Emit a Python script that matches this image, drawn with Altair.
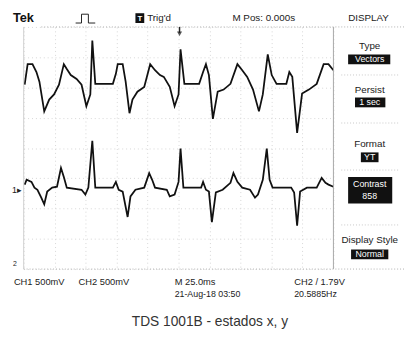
import altair as alt
import pandas as pd

# ---- trace data (time in ms, vertical position in screen divisions) ----
ch1_t = [0.8, 3.2, 7.1, 10.3, 12.7, 16.6, 20.6, 24.5, 28.5, 32.4, 34.8, 38.0, 42.7,
         46.7, 50.6, 53.8, 55.4, 57.8, 60.1, 72.0, 74.4, 75.9, 79.9, 82.3, 85.4,
         87.8, 91.8, 97.3, 102.1, 106.0, 107.6, 110.0, 113.1, 117.9, 121.8, 125.0,
         126.6, 129.7, 141.6, 144.8, 147.1, 149.5, 152.7, 156.6, 161.4, 166.9,
         172.5, 176.4, 180.4, 185.1, 189.9, 193.0, 197.0, 200.2, 204.1, 212.0,
         214.4, 216.8, 220.7, 224.7, 230.2, 236.5, 242.1, 246.0, 250.0]
ch1_div = [2.09, 2.77, 2.77, 2.51, 2.19, 1.21, 1.60, 1.77, 2.09, 2.77, 2.61, 2.41, 2.28,
           2.09, 1.38, 1.77, 3.55, 2.12, 2.12, 2.12, 2.45, 2.77, 2.77, 2.19, 1.15,
           1.60, 1.86, 2.02, 2.77, 2.57, 2.51, 2.41, 2.35, 2.02, 1.38, 1.77,
           3.26, 2.12, 2.12, 2.51, 2.77, 2.41, 0.96, 1.86, 1.93, 2.12,
           2.77, 2.57, 2.35, 1.93, 1.21, 1.77, 3.09, 2.41, 2.12, 2.12,
           2.51, 2.35, 0.50, 1.80, 1.93, 2.12, 2.77, 2.77, 2.57]

ch2_t = [0.8, 2.4, 6.3, 8.7, 11.1, 14.2, 16.6, 19.0, 23.0, 26.9, 30.1, 32.4, 34.8,
         46.7, 49.8, 52.2, 55.4, 57.8, 72.0, 74.4, 76.7, 79.9, 83.9, 86.2, 90.2,
         97.3, 101.3, 103.7, 106.0, 115.5, 117.9, 121.8, 125.0, 126.6, 128.9,
         143.2, 144.8, 147.1, 149.5, 151.9, 155.1, 160.6, 166.9, 169.3, 172.5,
         176.4, 182.7, 186.7, 189.1, 193.0, 196.2, 198.5, 200.9, 215.9, 218.3,
         220.7, 223.1, 228.6, 236.5, 240.5, 243.6, 246.0, 250.0]
ch2_div = [-1.21, -1.05, -1.12, -1.31, -1.38, -1.64, -1.86, -1.44, -1.31, -1.28, -0.66, -0.96, -1.31,
           -1.38, -1.54, -1.31, 0.24, -1.31, -1.31, -1.12, -1.38, -1.44, -2.28, -1.60, -1.38,
           -1.31, -0.83, -1.05, -1.31, -1.38, -1.60, -1.54, -1.12, -0.02, -1.31,
           -1.31, -1.12, -1.38, -1.44, -2.45, -1.47, -1.38, -1.15, -0.83, -1.12,
           -1.31, -1.38, -1.64, -1.54, -1.05, -0.02, -1.05, -1.31, -1.31, -1.47,
           -2.57, -1.44, -1.31, -1.31, -0.99, -1.15, -1.21, -1.28]

grid_t = [0, 25, 50, 75, 100, 125, 150, 175, 200, 225, 250]
grid_div = [-4, -3, -2, -1, 0, 1, 2, 3, 4]

W, H = 316, 247
FONT = "Liberation Sans"
INK = "#222222"

df = pd.DataFrame({
    "t": ch1_t + ch2_t,
    "v": ch1_div + ch2_div,
    "ch": ["CH1"] * len(ch1_t) + ["CH2"] * len(ch2_t),
})

xs = alt.Scale(domain=[0, 250], nice=False, zero=False)
ys = alt.Scale(domain=[-4, 4], nice=False, zero=False)
ax_common = dict(grid=True, labels=False, ticks=False, domain=False, title=None,
                 gridColor="#d6d6d6", gridDash=[1, 3], gridWidth=1)

traces = alt.Chart(df).mark_line(color="#111111", strokeWidth=1.8).encode(
    x=alt.X("t:Q", scale=xs, axis=alt.Axis(values=grid_t, **ax_common)),
    y=alt.Y("v:Q", scale=ys, axis=alt.Axis(values=grid_div, **ax_common)),
    detail="ch:N",
)

one = pd.DataFrame({"k": [0]})
OX, OY = 24, 24  # page position of the plot area's top-left corner


def label(px, py, s, size=10, align="left", weight="normal", color=INK, font=FONT):
    return alt.Chart(one).mark_text(
        text=s, fontSize=size, align=align, baseline="middle",
        fontWeight=weight, color=color, font=font,
    ).encode(x=alt.value(px - OX), y=alt.value(py - OY))


def box(x1, y1, x2, y2, color="#111111"):
    return alt.Chart(one).mark_rect(color=color).encode(
        x=alt.value(x1 - OX), x2=alt.value(x2 - OX),
        y=alt.value(y1 - OY), y2=alt.value(y2 - OY))


def seg(x1, y1, x2, y2, color=INK, width=1.0, dash=None):
    kw = dict(color=color, strokeWidth=width)
    if dash:
        kw["strokeDash"] = dash
    return alt.Chart(one).mark_rule(**kw).encode(
        x=alt.value(x1 - OX), x2=alt.value(x2 - OX),
        y=alt.value(y1 - OY), y2=alt.value(y2 - OY))


layers = [traces]

# borders
layers += [
    seg(24, 24, 24, 271, color="#cfcfcf"),
    seg(340, 24, 340, 271, color="#a8a8a8"),
    seg(42, 24, 412, 24, color="#b0b0b0", dash=[1, 2]),
    seg(24, 271, 412, 271, color="#b0b0b0", dash=[1, 2]),
]

# header
layers += [
    label(13, 15, "Tek", size=13, weight="bold", color="#111"),
    seg(77, 20, 83, 20), seg(83, 20, 83, 11), seg(83, 11, 90, 11),
    seg(90, 11, 90, 20), seg(90, 20, 97, 20),
    box(138, 10, 147, 20),
    label(142.5, 15.5, "T", size=8, align="center", weight="bold", color="white"),
    label(150, 15, "Trig'd", size=10),
    label(237, 15, "M Pos: 0.000s", size=10),
    label(355, 15, "DISPLAY", size=10),
    # trigger position marker
    seg(183, 24, 183, 30, width=1.5),
    alt.Chart(one).mark_point(shape="triangle-down", filled=True, size=28, color="#111").encode(
        x=alt.value(183 - OX), y=alt.value(31 - OY)),
]

# side menu
CX = 377
layers += [
    label(CX, 43, "Type", size=10, align="center"),
    box(355, 52, 398, 62),
    label(CX, 57, "Vectors", size=9, align="center", color="white"),
    seg(348, 73, 408, 73, color="#c8c8c8", dash=[1, 2]),
    label(CX, 88, "Persist", size=10, align="center"),
    box(362, 96, 393, 106),
    label(CX, 101, "1 sec", size=9, align="center", color="white"),
    seg(348, 122, 408, 122, color="#c8c8c8", dash=[1, 2]),
    label(CX, 143, "Format", size=10, align="center"),
    box(368, 152, 386, 162),
    label(CX, 157, "YT", size=9, align="center", color="white"),
    seg(348, 170, 408, 170, color="#c8c8c8", dash=[1, 2]),
    box(355, 177, 400, 204),
    label(CX, 184, "Contrast", size=9, align="center", color="white"),
    label(CX, 197, "858", size=9, align="center", color="white"),
    seg(348, 226, 408, 226, color="#c8c8c8", dash=[1, 2]),
    label(CX, 241, "Display Style", size=10, align="center"),
    box(358, 251, 396, 261),
    label(CX, 256, "Normal", size=9, align="center", color="white"),
]

# ground markers
layers += [
    label(12, 190, "1▸", size=9),
    label(13, 266, "2", size=7),
]

# footer
layers += [
    label(14, 284, "CH1  500mV", size=9.5),
    label(80, 284, "CH2  500mV", size=9.5),
    label(178, 284, "M 25.0ms", size=9.5),
    label(300, 284, "CH2 / 1.79V", size=9.5),
    label(178, 297, "21-Aug-18 03:50", size=9),
    label(300, 297, "20.5885Hz", size=9),
    label(214, 325, "TDS 1001B - estados x, y", size=14, align="center", color="#333"),
]

chart = alt.layer(*layers).properties(
    width=W, height=H,
    padding={"left": 16, "top": 16, "right": 72, "bottom": 66},
    autosize="none",
    background="white",
).configure_view(stroke=None)

chart.save("out.html", embed_options={"renderer": "svg", "actions": False})
